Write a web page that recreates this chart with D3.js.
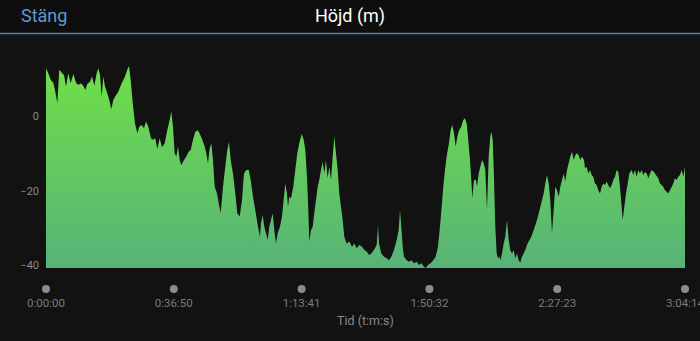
<!DOCTYPE html>
<html>
<head>
<meta charset="utf-8">
<script src="https://cdn.jsdelivr.net/npm/d3@7"></script>
<style>
  html, body { margin: 0; padding: 0; background: #121212; overflow: hidden; }
  svg { display: block; font-family: Roboto, "Liberation Sans", sans-serif; }
</style>
</head>
<body>
<div id="vis"></div>
<script>
'use strict';

// elapsed time in minutes, elevation in metres
var timeMin = [
  0, 0.66, 1.36, 2.10, 2.59, 3.26, 3.83, 4.53, 5.19, 5.77, 6.43, 7.12, 7.87, 8.65, 9.31, 10.00,
  10.75, 11.33, 11.91, 12.69, 13.26, 13.93, 14.62, 15.08, 15.57, 16.06, 16.52, 17.01, 17.67, 18.25,
  18.82, 19.40, 20.18, 20.84, 21.82, 22.78, 23.44, 23.93, 24.42, 25.00, 25.66, 26.32, 26.90, 27.59,
  28.25, 28.83, 29.49, 30.27, 30.85, 31.51, 32.09, 32.78, 33.44, 34.22, 34.97, 35.66, 36.12, 36.61,
  37.10, 37.57, 38.06, 38.55, 39.01, 39.79, 40.45, 41.14, 41.72, 42.38, 43.04, 43.82, 44.49, 45.06,
  45.75, 46.22, 46.70, 47.20, 47.66, 48.15, 48.64, 49.30, 49.79, 50.37, 51.03, 51.69, 52.27, 52.76,
  53.25, 53.91, 54.58, 55.15, 55.84, 56.51, 57.08, 57.75, 58.44, 59.02, 59.68, 60.34, 61.12, 61.70,
  61.98, 62.47, 62.94, 63.43, 63.92, 64.38, 64.87, 65.36, 65.82, 66.31, 66.80, 67.46, 68.04, 68.41,
  68.99, 69.48, 69.77, 70.14, 70.63, 71.30, 71.87, 72.45, 73.03, 73.72, 74.29, 74.76, 75.25, 75.62,
  75.91, 76.40, 76.89, 77.35, 77.84, 78.33, 78.79, 79.28, 79.77, 80.23, 80.72, 81.21, 81.68, 82.17,
  82.66, 83.12, 83.61, 84.10, 84.56, 85.05, 85.54, 86.00, 86.69, 87.44, 88.22, 88.88, 89.58, 90.33,
  91.10, 91.77, 92.46, 93.12, 93.79, 94.56, 95.34, 95.72, 96.00, 96.67, 97.45, 98.23, 98.89, 99.55,
  100.33, 101.11, 101.69, 102.06, 102.43, 102.84, 103.21, 103.99, 104.65, 105.32, 106.09, 106.87,
  107.54, 108.20, 108.98, 109.55, 110.13, 110.91, 111.66, 112.35, 113.01, 113.59, 114.08, 114.54,
  115.03, 115.52, 116.18, 116.67, 117.14, 117.63, 118.12, 118.58, 119.07, 119.73, 120.31, 120.80,
  121.29, 121.75, 122.24, 122.62, 122.90, 123.39, 123.97, 124.26, 124.75, 125.21, 125.70, 126.19,
  126.66, 127.15, 127.64, 128.10, 128.39, 128.79, 129.16, 129.54, 129.94, 130.31, 130.69, 131.09,
  131.46, 131.96, 132.42, 132.91, 133.40, 133.86, 134.35, 134.84, 135.30, 135.79, 136.28, 136.74,
  137.23, 137.72, 138.19, 138.67, 139.16, 139.91, 140.61, 141.27, 141.84, 142.51, 143.00, 143.49,
  143.95, 144.44, 144.93, 145.40, 145.88, 146.37, 146.84, 147.33, 147.82, 148.28, 148.77, 149.26,
  149.72, 150.21, 150.70, 151.16, 151.65, 152.14, 152.60, 153.09, 153.58, 154.04, 154.53, 155.11,
  155.40, 155.89, 156.35, 156.84, 157.33, 157.79, 158.28, 158.77, 159.23, 159.72, 160.21, 160.67,
  161.16, 161.65, 162.11, 162.60, 163.09, 163.56, 164.05, 164.54, 165.00, 165.49, 165.98, 166.27,
  166.73, 167.22, 167.71, 168.17, 168.86, 169.32, 169.81, 170.30, 170.76, 171.25, 171.74, 172.21,
  172.70, 173.19, 173.65, 174.14, 174.63, 175.29, 175.87, 176.53, 177.02, 177.51, 177.97, 178.46,
  178.95, 179.41, 179.90, 180.39, 180.86, 181.35, 181.84, 182.30, 182.79, 183.28, 183.74, 184.23
];
var elevM = [
  12.8, 11.5, 9.7, 8.9, 7.0, 3.5, 12.4, 11.6, 11.0, 7.9, 11.5, 8.8, 11.3, 8.9, 8.3, 8.8,
  8.1, 7.0, 8.6, 9.2, 10.6, 8.1, 11.5, 12.8, 11.0, 5.2, 10.6, 7.9, 6.1, 4.3,
  1.8, 4.3, 5.6, 6.5, 8.8, 10.6, 12.4, 13.4, 9.7, 3.4, -2.0, -4.6, -2.9, -2.4,
  -3.3, -1.5, -2.9, -6.0, -6.4, -6.0, -8.9, -6.0, -8.4, -7.3, -3.8, -1.1, 1.2, -2.9,
  -10.0, -10.9, -8.2, -11.8, -13.2, -11.8, -10.9, -9.6, -9.1, -6.4, -4.2, -3.8, -5.1, -6.4,
  -8.2, -10.0, -12.7, -8.7, -7.3, -11.8, -19.0, -20.8, -23.4, -26.1, -19.0, -13.6, -9.1, -6.9,
  -11.8, -15.4, -20.8, -26.1, -27.0, -22.6, -15.4, -14.5, -14.5, -17.2, -21.7, -25.2, -29.7, -32.4,
  -28.8, -26.6, -29.7, -31.5, -33.3, -29.7, -27.9, -26.1, -30.6, -34.2, -31.5, -29.7, -27.0, -23.4,
  -18.1, -20.8, -24.4, -21.7, -22.1, -19.0, -14.5, -10.0, -7.3, -4.8, -6.4, -9.1, -16.3, -25.2,
  -33.7, -30.6, -29.7, -26.1, -22.6, -19.0, -17.2, -14.5, -12.3, -15.4, -11.8, -16.7, -13.6, -17.2,
  -10.9, -5.4, -10.0, -14.5, -20.8, -24.4, -27.9, -32.4, -34.2, -33.7, -35.1, -34.2, -35.5, -34.6,
  -35.1, -36.0, -36.4, -37.3, -36.9, -36.0, -34.6, -29.3, -34.2, -36.9, -37.8, -38.2, -38.7, -37.8,
  -36.0, -33.3, -30.6, -25.2, -29.7, -35.1, -37.8, -38.7, -39.1, -38.7, -39.5, -39.1,
  -40.0, -39.5, -40.5, -40.7, -40.0, -39.5, -38.7, -37.8, -35.1, -29.7, -24.4, -19.0,
  -14.5, -10.9, -7.3, -3.8, -2.4, -4.6, -8.2, -5.6, -3.8, -2.9, -1.1, -0.6,
  -2.0, -6.4, -11.8, -17.2, -22.1, -17.2, -17.2, -19.0, -15.4, -13.6, -11.8, -12.7,
  -14.5, -25.2, -10.9, -5.6, -4.2, -6.4, -16.3, -29.7, -36.9, -38.2, -37.8, -38.7,
  -36.9, -34.2, -32.4, -27.9, -33.3, -36.0, -36.9, -36.0, -38.2, -36.9, -38.7, -39.4,
  -37.8, -36.9, -36.0, -34.6, -33.7, -32.4, -30.6, -28.8, -27.0, -24.4, -22.6, -20.8,
  -18.1, -15.8, -18.1, -22.6, -31.5, -25.2, -19.0, -19.9, -21.7, -19.0, -17.2, -15.4,
  -17.6, -14.5, -12.7, -10.9, -9.6, -11.8, -10.5, -10.0, -10.5, -11.8, -10.9, -11.8,
  -14.0, -13.6, -15.4, -14.5, -15.8, -16.3, -18.1, -18.5, -19.9, -20.8, -19.0, -18.1,
  -18.5, -17.6, -18.5, -19.4, -18.5, -17.2, -16.3, -14.5, -15.0, -19.0, -24.4, -27.9,
  -24.4, -20.8, -18.1, -15.4, -14.5, -15.8, -14.5, -16.3, -14.5, -15.4, -14.5, -15.8,
  -15.0, -15.4, -16.7, -15.4, -14.5, -15.0, -15.8, -16.7, -18.1, -18.5, -19.0, -19.9,
  -20.3, -20.8, -19.9, -19.0, -18.1, -16.7, -17.2, -16.3, -15.8, -14.5, -16.3, -13.6
];

var yTicks = [0, -20, -40];
var totalSec = 11054;   // 3:04:14
var xTickCount = 6;
var xTicks = d3.range(xTickCount).map(function (i) { return totalSec * i / (xTickCount - 1); });

var W = 700, H = 341;
var plot = { left: 46, right: 685, bottom: 268 };
var pxPerM = 3.725;

var data = timeMin.map(function (t, i) { return { sec: t * 60, elev: elevM[i] }; });

var x = d3.scaleLinear().domain([0, totalSec]).range([plot.left, plot.right]);
var yMin = -40.8, yMax = 14;
var y = d3.scaleLinear().domain([yMin, yMax]).range([plot.bottom, plot.bottom - (yMax - yMin) * pxPerM]);

function fmtTime(s) {
    s = Math.floor(s);
    var h = Math.floor(s / 3600), m = Math.floor((s % 3600) / 60), sec = s % 60;
    return h + ':' + d3.format('02d')(m) + ':' + d3.format('02d')(sec);
}

var svg = d3.select('#vis').append('svg')
    .attr('width', W)
    .attr('height', H);

svg.append('rect').attr('width', W).attr('height', H).attr('fill', '#121212');

//header
svg.append('rect').attr('width', W).attr('height', 33).attr('fill', '#0e0e0e');
svg.append('line')
    .attr('x1', 0).attr('x2', W).attr('y1', 33.5).attr('y2', 33.5)
    .attr('stroke', '#5f7f9f').attr('stroke-width', 1.5);
svg.append('text')
    .text('Stäng')
    .attr('x', 21).attr('y', 22)
    .attr('fill', '#5d9bd2')
    .style('font-size', '18px');
svg.append('text')
    .text('Höjd (m)')
    .attr('x', W / 2).attr('y', 22)
    .attr('text-anchor', 'middle')
    .attr('fill', '#ffffff')
    .style('font-size', '18px');

//gradient fill
var grad = svg.append('defs').append('linearGradient')
    .attr('id', 'elevGrad')
    .attr('gradientUnits', 'userSpaceOnUse')
    .attr('x1', 0).attr('x2', 0)
    .attr('y1', y(yMax)).attr('y2', plot.bottom);
grad.append('stop').attr('offset', '0%').attr('stop-color', '#6fe047');
grad.append('stop').attr('offset', '100%').attr('stop-color', '#57b378');

var area = d3.area()
    .x(function (d) { return x(d.sec); })
    .y0(plot.bottom)
    .y1(function (d) { return y(d.elev); });

svg.append('path')
    .datum(data)
    .attr('d', area)
    .attr('fill', 'url(#elevGrad)');

//y axis labels
var yAxis = d3.axisLeft(y)
    .tickValues(yTicks)
    .tickSize(0)
    .tickPadding(0)
    .tickFormat(function (d) { return d < 0 ? '\u2212' + Math.abs(d) : d; });
var gy = svg.append('g')
    .attr('transform', 'translate(39,0)')
    .call(yAxis);
gy.select('.domain').remove();
gy.selectAll('text')
    .attr('fill', '#8a8a8a')
    .style('font-size', '11px')
    .style('font-family', 'Roboto, sans-serif');

//x axis: dots and time labels (last one runs off the edge, as in the app)
var gx = svg.append('g');
gx.selectAll('circle')
    .data(xTicks)
    .enter().append('circle')
    .attr('cx', function (d) { return x(d); })
    .attr('cy', 289)
    .attr('r', 4)
    .attr('fill', '#8c8c8c');
gx.selectAll('text')
    .data(xTicks)
    .enter().append('text')
    .text(fmtTime)
    .attr('x', function (d) { return x(d); })
    .attr('y', 307)
    .attr('text-anchor', 'middle')
    .attr('fill', '#7c7c7c')
    .style('font-size', '11.5px');

svg.append('text')
    .text('Tid (t:m:s)')
    .attr('x', (plot.left + plot.right) / 2).attr('y', 325)
    .attr('text-anchor', 'middle')
    .attr('fill', '#8a8a8a')
    .style('font-size', '12.5px');
</script>
</body>
</html>
